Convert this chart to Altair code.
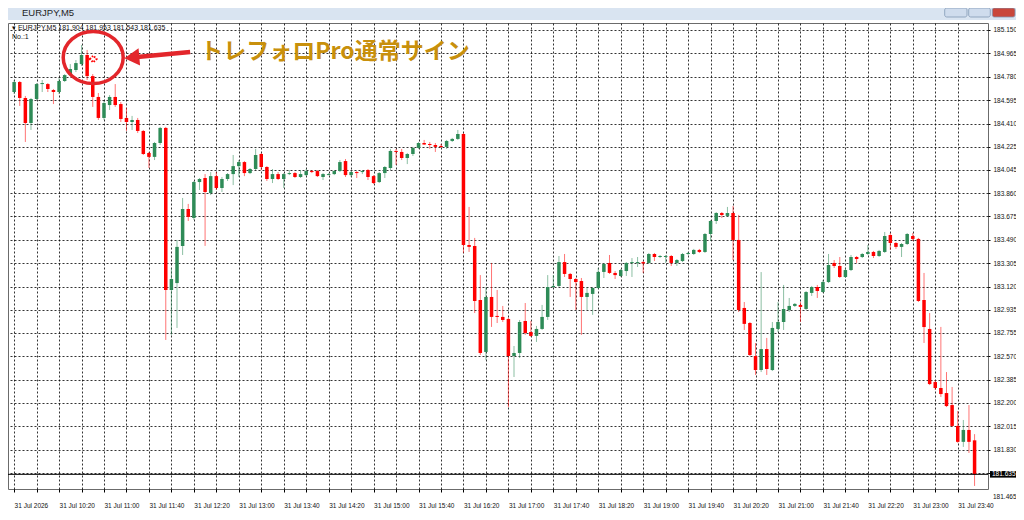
import altair as alt
import pandas as pd

# ---------------- data (EURJPY M5, 31 Jul 2026, from 09:40) ----------------
START_MIN = 9 * 60 + 40
STEP_MIN = 5

opens = [
    184.659, 184.738, 184.612, 184.414, 184.604, 184.722, 184.722, 184.675,
    184.659, 184.746, 184.793, 184.833, 184.880, 184.952, 184.785, 184.620, 184.454, 184.556,
    184.620, 184.564, 184.454, 184.422, 184.438, 184.351, 184.177, 184.146, 184.256, 184.375,
    183.093, 183.148, 183.441, 183.734, 183.663, 183.947, 183.979, 183.860, 183.994, 183.900,
    183.971, 184.010, 184.073, 184.105, 184.018, 184.050, 184.169, 184.066, 183.971, 184.010,
    183.971, 184.010, 184.018, 183.987, 184.002, 184.034, 184.034, 183.987, 184.006, 184.010,
    184.034, 184.113, 184.002, 184.026, 184.026, 184.042, 183.994, 183.947, 184.018, 184.058,
    184.193, 184.185, 184.137, 184.169, 184.217, 184.256, 184.248, 184.240, 184.232, 184.225,
    184.272, 184.288, 184.327, 183.449, 183.441, 183.014, 182.603, 183.038, 182.888, 182.880,
    182.864, 182.571, 182.595, 182.848, 182.761, 182.730, 182.785, 182.880, 183.117, 183.125,
    183.314, 183.220, 183.180, 183.164, 183.038, 183.062, 183.109, 183.236, 183.307, 183.228,
    183.204, 183.243, 183.307, 183.307, 183.314, 183.307, 183.378, 183.354, 183.354, 183.362,
    183.307, 183.322, 183.378, 183.378, 183.410, 183.394, 183.536, 183.639, 183.702, 183.679,
    183.702, 183.489, 182.951, 182.832, 182.571, 182.460, 182.626, 182.460, 182.785, 182.840,
    182.935, 182.967, 182.975, 182.943, 183.070, 183.117, 183.077, 183.156, 183.307, 183.283,
    183.196, 183.251, 183.354, 183.354, 183.378, 183.394, 183.362, 183.394, 183.528, 183.465,
    183.434, 183.457, 183.520, 183.497, 183.014, 182.785, 182.365, 182.318, 182.278, 182.183,
    182.018, 181.892, 181.986, 181.904,
]
highs = [
    184.754, 184.746, 184.628, 184.612, 184.730, 184.754, 184.730, 184.683,
    184.770, 184.801, 184.880, 184.912, 185.031, 184.992, 184.801, 184.651, 184.588, 184.635,
    184.722, 184.580, 184.533, 184.470, 184.454, 184.359, 184.185, 184.264, 184.383, 184.383,
    183.267, 183.489, 183.821, 183.774, 183.955, 183.979, 184.010, 184.026, 184.026, 183.987,
    184.018, 184.161, 184.121, 184.113, 184.058, 184.209, 184.177, 184.073, 184.050, 184.026,
    184.018, 184.042, 184.026, 184.042, 184.050, 184.042, 184.042, 184.018, 184.018, 184.042,
    184.121, 184.129, 184.034, 184.034, 184.042, 184.050, 184.002, 184.026, 184.073, 184.209,
    184.209, 184.209, 184.177, 184.225, 184.264, 184.280, 184.264, 184.256, 184.248, 184.280,
    184.296, 184.359, 184.335, 183.750, 183.505, 183.211, 183.117, 183.307, 183.093, 182.967,
    182.872, 182.650, 182.856, 182.990, 182.848, 182.809, 182.975, 183.211, 183.211, 183.362,
    183.378, 183.228, 183.188, 183.188, 183.117, 183.117, 183.267, 183.307, 183.370, 183.243,
    183.259, 183.314, 183.346, 183.354, 183.322, 183.386, 183.386, 183.370, 183.370, 183.370,
    183.338, 183.386, 183.394, 183.418, 183.418, 183.544, 183.647, 183.710, 183.710, 183.750,
    183.758, 183.687, 182.998, 182.840, 182.674, 183.235, 182.714, 182.840, 182.998, 183.133,
    183.030, 182.990, 182.998, 183.085, 183.125, 183.133, 183.172, 183.378, 183.330, 183.354,
    183.267, 183.370, 183.362, 183.386, 183.449, 183.402, 183.410, 183.552, 183.544, 183.473,
    183.465, 183.544, 183.544, 183.505, 183.228, 182.911, 182.381, 182.801, 182.444, 182.326,
    182.136, 182.065, 182.183, 181.953,
]
lows = [
    184.643, 184.549, 184.264, 184.359, 184.596, 184.659, 184.659, 184.564,
    184.643, 184.738, 184.785, 184.817, 184.865, 184.754, 184.541, 184.438, 184.438, 184.517,
    184.541, 184.422, 184.351, 184.359, 184.335, 184.161, 184.058, 184.121, 184.240, 182.698,
    182.738, 182.793, 183.370, 183.639, 183.647, 183.884, 183.442, 183.844, 183.884, 183.868,
    183.955, 183.923, 183.987, 183.994, 184.010, 184.042, 184.042, 183.955, 183.939, 183.963,
    183.900, 184.002, 183.979, 183.979, 183.994, 184.018, 183.987, 183.963, 184.002, 184.002,
    184.026, 183.987, 183.987, 183.979, 184.010, 183.963, 183.931, 183.939, 183.979, 184.042,
    184.082, 184.121, 184.089, 184.153, 184.209, 184.240, 184.209, 184.185, 184.217, 184.209,
    184.264, 184.280, 183.386, 183.394, 182.911, 182.579, 182.539, 182.801, 182.832, 182.840,
    182.167, 182.405, 182.555, 182.738, 182.722, 182.682, 182.777, 182.856, 183.109, 183.117,
    183.196, 183.038, 182.935, 182.738, 182.935, 182.896, 183.101, 183.188, 183.220, 183.180,
    183.196, 183.204, 183.196, 183.275, 183.228, 183.299, 183.322, 183.346, 183.307, 183.283,
    183.283, 183.314, 183.370, 183.370, 183.386, 183.386, 183.481, 183.615, 183.663, 183.671,
    183.330, 182.919, 182.777, 182.571, 182.421, 182.444, 182.421, 182.452, 182.761, 182.777,
    182.919, 182.959, 182.840, 182.935, 183.046, 183.030, 183.070, 183.148, 183.267, 183.188,
    183.188, 183.243, 183.307, 183.346, 183.370, 183.346, 183.354, 183.386, 183.410, 183.418,
    183.354, 183.449, 183.481, 182.998, 182.674, 182.341, 182.302, 182.247, 182.167, 182.010,
    181.884, 181.852, 181.804, 181.543,
]
closes = [
    184.738, 184.612, 184.414, 184.604, 184.722, 184.730, 184.683, 184.659,
    184.746, 184.793, 184.841, 184.888, 184.952, 184.785, 184.620, 184.454, 184.572, 184.620,
    184.556, 184.446, 184.422, 184.438, 184.351, 184.169, 184.146, 184.256, 184.375, 183.093,
    183.180, 183.434, 183.734, 183.671, 183.947, 183.971, 183.868, 183.994, 183.900, 183.971,
    184.010, 184.073, 184.105, 184.018, 184.050, 184.161, 184.066, 183.971, 184.010, 183.971,
    184.010, 184.018, 183.987, 184.010, 184.034, 184.030, 183.994, 184.010, 184.010, 184.034,
    184.105, 184.002, 184.026, 184.018, 184.034, 183.987, 183.939, 184.018, 184.066, 184.193,
    184.185, 184.137, 184.169, 184.217, 184.256, 184.244, 184.240, 184.225, 184.225, 184.272,
    184.288, 184.327, 183.449, 183.434, 183.006, 182.595, 183.038, 182.880, 182.880, 182.856,
    182.571, 182.595, 182.840, 182.753, 182.730, 182.785, 182.880, 183.117, 183.125, 183.314,
    183.220, 183.180, 183.156, 183.038, 183.070, 183.109, 183.236, 183.299, 183.228, 183.211,
    183.251, 183.307, 183.314, 183.314, 183.303, 183.378, 183.354, 183.362, 183.362, 183.307,
    183.330, 183.378, 183.386, 183.410, 183.394, 183.536, 183.639, 183.702, 183.686, 183.702,
    183.489, 182.935, 182.825, 182.579, 182.460, 182.626, 182.468, 182.793, 182.840, 182.943,
    182.967, 182.983, 182.959, 183.077, 183.117, 183.085, 183.156, 183.291, 183.283, 183.196,
    183.251, 183.354, 183.338, 183.378, 183.394, 183.362, 183.402, 183.520, 183.465, 183.434,
    183.457, 183.536, 183.497, 183.006, 182.800, 182.349, 182.318, 182.270, 182.175, 182.018,
    181.892, 181.986, 181.892, 181.635,
]

price_ticks = [185.150, 184.965, 184.780, 184.595, 184.410, 184.225, 184.045, 183.860,
               183.675, 183.490, 183.305, 183.120, 182.935, 182.755, 182.570, 182.385,
               182.200, 182.015, 181.830, 181.645]
time_ticks = list(range(580, 1421, 20))
bid_price = [181.635]
bottom_price_label = ["181.465"]
header_text = ["\u25be EURJPY,M5  181.904 181.953 181.543 181.635"]
header_no = ["No.:1"]
window_title = ["EURJPY,M5"]

# annotation (signal mark, circle, arrow, caption) in time/price coordinates
signal_t, signal_p = [650.4], [184.920]
circle_t, circle_p = [650.4], [184.932]
arrow_t = [684.8, 736.7]
arrow_p = [184.932, 184.976]
caption_t, caption_p = [745.6], [184.976]
caption = ["トレフォロPro通常サイン"]

# ---------------- frame ----------------
n = len(opens)
t = [START_MIN + STEP_MIN * k for k in range(n)]
df = pd.DataFrame({"t": t, "open": opens, "high": highs, "low": lows, "close": closes})
df["time"] = [f"{m // 60:02d}:{m % 60:02d}" for m in t]
df["dir"] = ["up" if c >= o else "down" for o, c in zip(opens, closes)]
df["body_top"] = df[["open", "close"]].max(axis=1)
df["body_bot"] = df[["open", "close"]].min(axis=1)
thin = (df["body_top"] - df["body_bot"]) < 0.008
df.loc[thin, "body_bot"] = df.loc[thin, "body_top"] - 0.008

W, H = 980, 466
PAD_R = 28
X_DOMAIN = [579.0, 1442.5]
Y_DOMAIN = [181.519, 185.205]
UP, DOWN = "#2e8b57", "#ff0000"
ANN = "#e3262b"
FONT = "Liberation Sans"

x_labels = ("datum.value == 580 ? '31 Jul 2026' : ((datum.value - 580) % 40 == 0 ? "
            "'31 Jul ' + format(floor(datum.value / 60), '02d') + ':' + "
            "format(datum.value % 60, '02d') : '')")


def X(field):
    return alt.X(f"{field}:Q", title=None,
                 scale=alt.Scale(domain=X_DOMAIN, nice=False, zero=False),
                 axis=alt.Axis(values=time_ticks, labelExpr=x_labels, labelAlign="left",
                               labelBaseline="top", labelPadding=10, tickSize=3,
                               labelOverlap=False, labelFlush=False, grid=True))


def Y(field):
    return alt.Y(f"{field}:Q", title=None,
                 scale=alt.Scale(domain=Y_DOMAIN, nice=False, zero=False),
                 axis=alt.Axis(orient="right", values=price_ticks,
                               labelExpr="datum.value < 181.7 ? '' : format(datum.value, '.3f')",
                               tickSize=2, labelPadding=3, labelOverlap=False,
                               labelFlush=False, grid=True))


color = alt.Color("dir:N", scale=alt.Scale(domain=["up", "down"], range=[UP, DOWN]), legend=None)
one = pd.DataFrame({"k": [0]})

wicks = alt.Chart(df).mark_rule(strokeWidth=1, opacity=0.55).encode(
    x=X("t"), y=Y("low"), y2="high", color=color)
bodies = alt.Chart(df).mark_bar(size=3.5, opacity=1).encode(
    x=X("t"), y=Y("body_bot"), y2="body_top", color=color,
    tooltip=["time:N", "open:Q", "high:Q", "low:Q", "close:Q"])

bid_df = pd.DataFrame({"price": bid_price, "top": [bid_price[0] + 0.026],
                       "bot": [bid_price[0] - 0.026], "label": [f"{bid_price[0]:.3f}"]})
bid_line = alt.Chart(bid_df).mark_rule(color="black", strokeWidth=1).encode(y=Y("price"))
bid_box = alt.Chart(bid_df).mark_rect(color="black").encode(
    x=alt.value(W + 2), x2=alt.value(W + PAD_R), y=Y("bot"), y2="top")
bid_text = alt.Chart(bid_df).mark_text(align="left", baseline="middle", color="white",
                                       font=FONT, fontSize=6.5).encode(
    x=alt.value(W + 4), y=Y("price"), text="label:N")
bottom_lbl = alt.Chart(pd.DataFrame({"s": bottom_price_label})).mark_text(
    align="left", baseline="middle", font=FONT, fontSize=6.5, color="#111").encode(
    x=alt.value(W + 5), y=alt.value(H + 8), text="s:N")

hdr = alt.Chart(pd.DataFrame({"s": header_text})).mark_text(
    align="left", baseline="middle", font=FONT, fontSize=7, color="#111").encode(
    x=alt.value(4), y=alt.value(5), text="s:N")
hdr2 = alt.Chart(pd.DataFrame({"s": header_no})).mark_text(
    align="left", baseline="middle", font=FONT, fontSize=7, color="#111").encode(
    x=alt.value(4), y=alt.value(14), text="s:N")

# window chrome
band = alt.Chart(one).mark_rect(color="#d9e4f1").encode(
    x=alt.value(0), x2=alt.value(W + PAD_R), y=alt.value(-15), y2=alt.value(-3))
title_txt = alt.Chart(pd.DataFrame({"s": window_title})).mark_text(
    align="left", baseline="middle", font=FONT, fontSize=9.5, color="#1e1e1e").encode(
    x=alt.value(14), y=alt.value(-10), text="s:N")
btn_df = pd.DataFrame({"x0": [936.7, 960.7, 984.3], "x1": [959.0, 982.3, 1007.0],
                       "c": ["#cfdced", "#cfdced", "#c9473b"]})
buttons = alt.Chart(btn_df).mark_rect(cornerRadius=2, stroke="#8298b4", strokeWidth=0.8).encode(
    x=alt.X("x0:Q", scale=None), x2="x1:Q", y=alt.value(-15), y2=alt.value(-6),
    fill=alt.Fill("c:N", scale=None))

# annotation
sig = alt.Chart(pd.DataFrame({"t": signal_t, "p": signal_p})).mark_point(
    shape="diamond", filled=False, size=45, strokeWidth=2, strokeDash=[1.5, 1.5],
    color=DOWN, opacity=1).encode(x=X("t"), y=Y("p"))
ellipse_path = "M -1 0 A 1 0.87 0 1 1 1 0 A 1 0.87 0 1 1 -1 0 Z"
circle = alt.Chart(pd.DataFrame({"t": circle_t, "p": circle_p})).mark_point(
    shape=ellipse_path, filled=False, size=3600, strokeWidth=3.5, color=ANN, opacity=1).encode(
    x=X("t"), y=Y("p"))
arrow = alt.Chart(pd.DataFrame({"t": arrow_t, "p": arrow_p, "o": [0, 1]})).mark_line(
    strokeWidth=4.5, color=ANN).encode(x=X("t"), y=Y("p"), order="o:Q")
head = alt.Chart(pd.DataFrame({"t": [arrow_t[0]], "p": [arrow_p[0]]})).mark_point(
    shape="triangle-left", filled=True, size=300, angle=355, color=ANN, opacity=1).encode(
    x=X("t"), y=Y("p"))
cap = alt.Chart(pd.DataFrame({"t": caption_t, "p": caption_p, "s": caption})).mark_text(
    align="left", baseline="middle", font="Noto Sans CJK JP", fontSize=23, fontWeight="bold",
    color="#c8900c").encode(x=X("t"), y=Y("p"), text="s:N")

chart = alt.layer(
    band, title_txt, buttons,
    wicks, bodies, bid_line, bid_box, bid_text, bottom_lbl, hdr, hdr2,
    sig, arrow, head, circle, cap,
).properties(
    width=W, height=H,
    padding={"left": 0, "top": 15, "right": PAD_R, "bottom": 20},
    autosize=alt.AutoSizeParams(type="none"),
    background="white",
).configure_view(
    stroke="#6b6b6b", strokeWidth=1
).configure_axis(
    labelFont=FONT, labelFontSize=6.5, labelColor="#111",
    gridColor="#000", gridDash=[2, 2], gridOpacity=0.8, gridWidth=1,
    tickColor="#000", domain=False,
)

chart.save("out.html", embed_options={"renderer": "svg", "actions": False})
